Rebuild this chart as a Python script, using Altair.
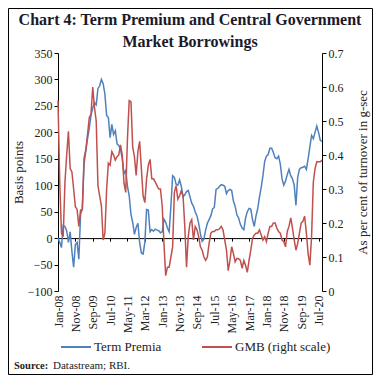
import altair as alt
import pandas as pd

# Monthly observations, Jan-08 .. Sep-20
tick_labels = ["Jan-08", "Nov-08", "Sep-09", "Jul-10", "May-11", "Mar-12", "Jan-13", "Nov-13",
               "Sep-14", "Jul-15", "May-16", "Mar-17", "Jan-18", "Nov-18", "Sep-19", "Jul-20"]

term_premia = [
    0, -8, -18, 24, 22, 14, -8, 12, -25, -55,
    -12, -8, -40, 45, 55, 140, 164, 188, 208, 232,
    246, 256, 252, 283, 288, 300, 292, 272, 232, 228,
    190, 215, 196, 203, 178, 175, 168, 150, 122, 128,
    98, 80, 45, 30, 7, 20, 28, -8, -28, -30,
    -8, 54, 53, 12, 16, 13, 17, 15, 14, 10,
    12, 36, 30, 19, 12, 60, 118, 115, 102, 100,
    110, 98, 78, 82, 88, 90, 78, 66, 60, 50,
    42, 28, 8, -6, -2, 15, 28, 35, 42, 55,
    58, 92, 94, 98, 101, 100, 98, 84, 90, 92,
    90, 70, 60, 44, 38, 26, 19, 16, 38, 50,
    56, 55, 35, 22, 42, 56, 78, 96, 118, 145,
    155, 158, 170, 170, 162, 152, 150, 155, 140, 112,
    100, 108, 120, 130, 118, 112, 100, 62, 115, 130,
    133, 134, 136, 130, 150, 172, 194, 188, 200, 212,
    200, 185, 183,
]

gmb = [
    0.56, 0.32, 0.17, 0.16, 0.32, 0.40, 0.47, 0.36, 0.35, 0.30,
    0.248, 0.24, 0.19, 0.238, 0.24, 0.39, 0.415, 0.46, 0.51, 0.52,
    0.60, 0.54, 0.50, 0.31, 0.28, 0.25, 0.15, 0.17, 0.30, 0.376,
    0.37, 0.41, 0.40, 0.385, 0.395, 0.40, 0.43, 0.40, 0.317, 0.29,
    0.45, 0.56, 0.557, 0.424, 0.395, 0.34, 0.41, 0.44, 0.36, 0.28,
    0.26, 0.33, 0.37, 0.387, 0.33, 0.33, 0.32, 0.31, 0.30, 0.30,
    0.25, 0.14, 0.045, 0.07, 0.07, 0.10, 0.13, 0.29, 0.31, 0.27,
    0.28, 0.295, 0.28, 0.19, 0.07, 0.16, 0.20, 0.21, 0.15, 0.19,
    0.18, 0.16, 0.13, 0.12, 0.10, 0.09, 0.10, 0.14, 0.17, 0.175,
    0.175, 0.18, 0.18, 0.183, 0.19, 0.18, 0.15, 0.12, 0.06, 0.09,
    0.13, 0.11, 0.086, 0.096, 0.095, 0.09, 0.067, 0.09, 0.075, 0.055,
    0.09, 0.12, 0.155, 0.165, 0.17, 0.17, 0.18, 0.165, 0.15, 0.16,
    0.145, 0.17, 0.19, 0.19, 0.20, 0.20, 0.185, 0.175, 0.17, 0.15,
    0.145, 0.13, 0.175, 0.19, 0.215, 0.185, 0.15, 0.12, 0.14, 0.17,
    0.20, 0.205, 0.22, 0.17, 0.11, 0.076, 0.16, 0.32, 0.36, 0.38,
    0.38, 0.38, 0.385,
]

series_names = ["Term Premia", "GMB (right scale)"]
colors = ["#4F81BD", "#C0504D"]

n = len(term_premia)
df_tp = pd.DataFrame({"m": list(range(n)), "value": term_premia, "series": series_names[0]})
df_gmb = pd.DataFrame({"m": list(range(len(gmb))), "value": gmb, "series": series_names[1]})

FONT = "Liberation Serif"
label_arr = "[" + ",".join("'" + s + "'" for s in tick_labels) + "]"
tick_vals = list(range(0, 151, 10))

color = alt.Color(
    "series:N",
    scale=alt.Scale(domain=series_names, range=colors),
    legend=alt.Legend(
        title=None, orient="none", legendX=2, legendY=278, direction="horizontal",
        symbolType="stroke", symbolSize=900, symbolStrokeWidth=2,
        labelFont=FONT, labelFontSize=13, labelColor="#222", labelOffset=2,
        columnPadding=36,
    ),
)

xscale = alt.Scale(domain=[0, n - 1], nice=False, zero=False)

tp = alt.Chart(df_tp).mark_line(strokeWidth=1.5).encode(
    x=alt.X("m:Q", scale=xscale, axis=alt.Axis(
        orient="bottom", values=tick_vals, labelExpr=label_arr + "[round(datum.value/10)]",
        labelAngle=270, labelAlign="right", labelBaseline="middle", labelFont=FONT,
        labelFontSize=12, labelColor="#222", labelPadding=4, domain=False, ticks=False,
        grid=False, title=None)),
    y=alt.Y("value:Q", scale=alt.Scale(domain=[-100, 350], nice=False), axis=alt.Axis(
        orient="left", values=list(range(-100, 351, 50)), title="Basis points", titleFont=FONT,
        titleFontSize=13, titleFontWeight="normal", titleColor="#222", titlePadding=2,
        labelFont=FONT, labelFontSize=12, labelColor="#222", tickSize=4, tickColor="#000",
        domainColor="#000", grid=False)),
    color=color,
)

gm = alt.Chart(df_gmb).mark_line(strokeWidth=1.5).encode(
    x=alt.X("m:Q", scale=xscale, axis=alt.Axis(
        orient="bottom", values=tick_vals, labels=False, ticks=True, tickSize=3, tickColor="#000",
        domain=True, domainColor="#000", grid=False, title=None, offset=-52.9)),
    y=alt.Y("value:Q", scale=alt.Scale(domain=[0, 0.7], nice=False), axis=alt.Axis(
        orient="right", values=[0, 0.1, 0.2, 0.3, 0.4, 0.5, 0.6, 0.7], format="~g",
        title="As per cent of turnover in g-sec", titleAngle=270, titleBaseline="top",
        titleFont=FONT, titleFontSize=13, titleFontWeight="normal", titleColor="#222",
        titlePadding=13, labelFont=FONT, labelFontSize=12, labelColor="#222", tickSize=4,
        tickColor="#000", domainColor="#000", grid=False)),
    color=color,
)

blank = alt.Data(values=[{"a": 1}])
src_bold = alt.Chart(blank).mark_text(
    text="Source:", font=FONT, fontSize=10.5, fontWeight="bold", align="left", color="#222"
).encode(x=alt.value(-44), y=alt.value(313))
src_rest = alt.Chart(blank).mark_text(
    text="Datastream; RBI.", font=FONT, fontSize=11, align="left", color="#222"
).encode(x=alt.value(-5), y=alt.value(313))
frame = alt.Chart(blank).mark_rect(filled=False, stroke="#000", strokeWidth=1).encode(
    x=alt.value(-49.5), x2=alt.value(314.5), y=alt.value(-44.5), y2=alt.value(321.5))

chart = alt.layer(tp, gm, src_bold, src_rest, frame).resolve_scale(
    y="independent"
).resolve_axis(x="independent").properties(
    width=264, height=238,
    autosize=alt.AutoSizeParams(type="none"),
    padding={"left": 50, "top": 45, "right": 51, "bottom": 84},
    background="white",
    title=alt.TitleParams(
        ["Chart 4: Term Premium and Central Government", "Market Borrowings"],
        font=FONT, fontSize=16, fontWeight="bold", color="#1a1a2a", anchor="middle",
        lineHeight=22, offset=-42),
).configure_view(strokeWidth=0)

chart.save("out.html", embed_options={"renderer": "svg", "actions": False})
